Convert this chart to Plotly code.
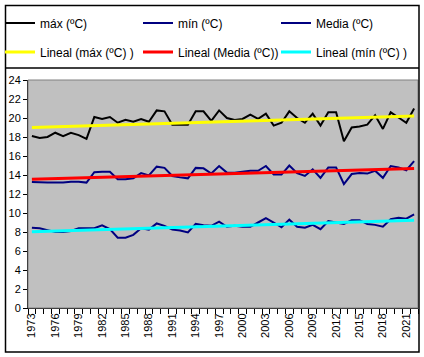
import numpy as np
import plotly.graph_objects as go

years = list(range(1973, 2023))

tmax = [18.1, 17.9, 18.0, 18.45, 18.1, 18.45, 18.2, 17.8, 20.1, 19.9,
        20.1, 19.5, 19.8, 19.6, 19.9, 19.6, 20.8, 20.7, 19.3, 19.3,
        19.3, 20.7, 20.7, 19.7, 20.8, 20.0, 19.8, 19.9, 20.35, 19.9,
        20.45, 19.2, 19.5, 20.7, 20.0, 19.5, 20.45, 19.2, 20.6, 20.6,
        17.55, 19.0, 19.1, 19.3, 20.3, 18.85, 20.6, 20.05, 19.5, 21.0]

tmed = [13.26, 13.2, 13.2, 13.2, 13.2, 13.3, 13.3, 13.2, 14.3, 14.35,
        14.35, 13.55, 13.55, 13.65, 14.2, 13.95, 14.88, 14.75, 13.9, 13.75,
        13.65, 14.75, 14.7, 14.15, 14.95, 14.25, 14.25, 14.35, 14.45, 14.45,
        14.95, 14.05, 14.05, 15.0, 14.2, 13.9, 14.6, 13.7, 14.8, 14.8,
        13.05, 14.1, 14.2, 14.15, 14.45, 13.7, 14.95, 14.8, 14.5, 15.45]

tmin = [8.45, 8.4, 8.2, 8.0, 8.0, 8.1, 8.4, 8.4, 8.4, 8.7,
        8.3, 7.4, 7.4, 7.7, 8.4, 8.25, 8.9, 8.65, 8.25, 8.15,
        7.95, 8.85, 8.7, 8.65, 9.1, 8.55, 8.65, 8.55, 8.55, 9.0,
        9.45, 9.0, 8.5, 9.3, 8.55, 8.45, 8.75, 8.3, 9.15, 9.0,
        8.85, 9.25, 9.25, 8.85, 8.75, 8.55, 9.35, 9.5, 9.4, 9.85]

label_years = list(range(1973, 2022, 3))
y_ticks = list(range(0, 25, 2))

x = np.array(years, dtype=float)


def trend(vals):
    a, b = np.polyfit(x, np.array(vals), 1)
    return a * x + b


FONT = "Liberation Sans"
NAVY = "#000080"

fig = go.Figure()

# data series (row 1 of legend)
fig.add_trace(go.Scatter(x=years, y=tmax, mode="lines", name="máx (ºC)",
                         line=dict(color="black", width=2), legend="legend"))
fig.add_trace(go.Scatter(x=years, y=tmin, mode="lines", name="mín (ºC)",
                         line=dict(color=NAVY, width=2), legend="legend"))
fig.add_trace(go.Scatter(x=years, y=tmed, mode="lines", name="Media (ºC)",
                         line=dict(color=NAVY, width=2), legend="legend"))

# trend lines (row 2 of legend)
fig.add_trace(go.Scatter(x=years, y=trend(tmax), mode="lines", name="Lineal (máx (ºC) )",
                         line=dict(color="#FFFF00", width=3), legend="legend2"))
fig.add_trace(go.Scatter(x=years, y=trend(tmed), mode="lines", name="Lineal (Media (ºC))",
                         line=dict(color="#FF0000", width=3), legend="legend2"))
fig.add_trace(go.Scatter(x=years, y=trend(tmin), mode="lines", name="Lineal (mín (ºC) )",
                         line=dict(color="#00FFFF", width=3), legend="legend2"))

W, H = 424, 357
L, R, T, B = 28, 418, 80, 308
pw, ph = R - L, B - T


def px(xp):
    return (xp - L) / pw


def py(yp):
    return (B - yp) / ph


legend_common = dict(
    orientation="h", xanchor="left", yanchor="middle",
    font=dict(family=FONT, size=12, color="black"),
    bgcolor="rgba(0,0,0,0)", borderwidth=0,
    entrywidth=93, entrywidthmode="pixels",
    traceorder="normal",
)

fig.update_layout(
    width=W, height=H,
    margin=dict(l=L, r=W - R, t=T, b=H - B, autoexpand=False),
    paper_bgcolor="white",
    plot_bgcolor="#C0C0C0",
    font=dict(family=FONT, size=11, color="black"),
    showlegend=True,
    legend=dict(x=px(0), y=py(23), **legend_common),
    legend2=dict(x=px(0), y=py(52), **legend_common),
    xaxis=dict(
        range=[1972.5, 2022.5],
        tickmode="array", tickvals=label_years, ticktext=[str(v) for v in label_years],
        tickangle=-90, ticks="outside", ticklen=0,
        showgrid=False, zeroline=False,
        showline=True, linecolor="black", linewidth=1,
        tickfont=dict(family=FONT, size=11, color="black"),
        minor=dict(tickmode="array", tickvals=[v - 0.5 for v in years] + [2022.5],
                   ticks="outside", ticklen=5, tickcolor="black", tickwidth=1,
                   showgrid=False),
        fixedrange=True,
    ),
    yaxis=dict(
        range=[0, 24],
        tickmode="array", tickvals=y_ticks,
        ticks="outside", ticklen=4, tickcolor="black",
        showgrid=False, zeroline=False,
        showline=True, linecolor="black", linewidth=1,
        tickfont=dict(family=FONT, size=11, color="black"),
        fixedrange=True,
    ),
    shapes=[
        # plot area border
        dict(type="rect", xref="paper", yref="paper", x0=0, x1=1, y0=0, y1=1,
             line=dict(color="#808080", width=1), fillcolor="rgba(0,0,0,0)", layer="above"),
        # outer chart frame
        dict(type="rect", xref="paper", yref="paper",
             x0=px(5.5), x1=px(419), y0=py(352), y1=py(5.5),
             line=dict(color="black", width=1.5), fillcolor="rgba(0,0,0,0)"),
        # legend box bottom edge
        dict(type="line", xref="paper", yref="paper",
             x0=px(5.5), x1=px(419), y0=py(68), y1=py(68),
             line=dict(color="black", width=1.5)),
    ],
)

fig.write_html("out.html",
               config={"displayModeBar": False, "staticPlot": True},
               post_script="document.body.style.margin='0';document.body.style.overflow='hidden';")
